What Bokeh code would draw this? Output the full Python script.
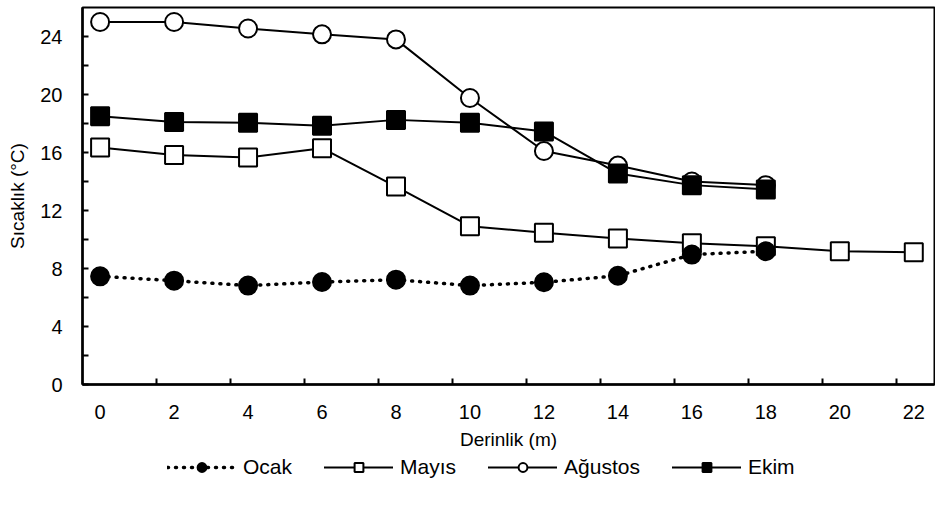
from bokeh.plotting import figure
from bokeh.models import FixedTicker, Legend, LegendItem, Range1d, ColumnDataSource
from bokeh.layouts import column
from bokeh.embed import file_html
from bokeh.resources import INLINE

depth_ocak = [0, 2, 4, 6, 8, 10, 12, 14, 16, 18]
ocak = [7.46, 7.16, 6.82, 7.07, 7.23, 6.82, 7.05, 7.5, 8.96, 9.19]

depth_mayis = [0, 2, 4, 6, 8, 10, 12, 14, 16, 18, 20, 22]
mayis = [16.35, 15.83, 15.65, 16.3, 13.65, 10.92, 10.46, 10.07, 9.74, 9.53, 9.19, 9.12]

depth_agustos = [0, 2, 4, 6, 8, 10, 12, 14, 16, 18]
agustos = [25.0, 25.0, 24.55, 24.15, 23.8, 19.76, 16.1, 15.1, 14.0, 13.75]

depth_ekim = [0, 2, 4, 6, 8, 10, 12, 14, 16, 18]
ekim = [18.5, 18.1, 18.05, 17.85, 18.25, 18.05, 17.45, 14.55, 13.75, 13.45]

series_names = ["Ocak", "Mayıs", "Ağustos", "Ekim"]

x_labels = [0, 2, 4, 6, 8, 10, 12, 14, 16, 18, 20, 22]
x_tick_marks = [1.52, 3.52, 5.52, 7.52, 9.52, 11.52, 13.52, 15.52, 17.52, 19.52, 21.52]
y_labels = [0, 4, 8, 12, 16, 20, 24]
y_minor = [2, 6, 10, 14, 18, 22]

FONT = "Liberation Sans"

p = figure(frame_width=852, frame_height=377, output_backend="svg", toolbar_location=None,
           x_range=Range1d(-0.476, 22.56), y_range=Range1d(0, 26),
           min_border_left=82, min_border_right=1, min_border_top=7, min_border_bottom=73)

p.xgrid.visible = False
p.ygrid.visible = False
p.outline_line_color = "black"
p.outline_line_width = 2
p.background_fill_color = "white"
p.border_fill_color = "white"

for ax in (p.xaxis[0], p.yaxis[0]):
    ax.axis_line_color = "black"
    ax.axis_line_width = 2.5
    ax.major_label_text_font = FONT
    ax.major_label_text_font_size = "20px"
    ax.major_label_text_color = "black"
    ax.axis_label_text_font = FONT
    ax.axis_label_text_font_size = "19px"
    ax.axis_label_text_font_style = "normal"
    ax.axis_label_text_color = "black"
    ax.major_tick_line_color = "black"
    ax.minor_tick_line_color = "black"
    ax.major_tick_line_width = 2
    ax.minor_tick_line_width = 2

p.xaxis.ticker = FixedTicker(ticks=x_labels, minor_ticks=x_tick_marks)
p.xaxis.major_tick_in = 0
p.xaxis.major_tick_out = 0
p.xaxis.minor_tick_in = 6
p.xaxis.minor_tick_out = 0
p.xaxis.major_label_standoff = 20
p.xaxis.axis_label = "Derinlik (m)"
p.xaxis.axis_label_standoff = 7

p.yaxis.ticker = FixedTicker(ticks=y_labels, minor_ticks=y_minor)
p.yaxis.major_tick_in = 6
p.yaxis.major_tick_out = 0
p.yaxis.minor_tick_in = 6
p.yaxis.minor_tick_out = 0
p.yaxis.major_label_standoff = 20
p.yaxis.axis_label = "Sıcaklık (°C)"
p.yaxis.axis_label_standoff = 9

SZ = 18
LW = 2

styles = {
    "Ocak": dict(marker="circle", fill="black", dash="1 7", lw=3.5),
    "Mayıs": dict(marker="square", fill="white", dash="solid", lw=LW),
    "Ağustos": dict(marker="circle", fill="white", dash="solid", lw=LW),
    "Ekim": dict(marker="square", fill="black", dash="solid", lw=LW),
}
sources = {
    "Ocak": ColumnDataSource(dict(x=depth_ocak, y=ocak)),
    "Mayıs": ColumnDataSource(dict(x=depth_mayis, y=mayis)),
    "Ağustos": ColumnDataSource(dict(x=depth_agustos, y=agustos)),
    "Ekim": ColumnDataSource(dict(x=depth_ekim, y=ekim)),
}

# draw order: Mayıs, Ocak, Ağustos, Ekim
for name in ["Mayıs", "Ocak", "Ağustos", "Ekim"]:
    st = styles[name]
    src = sources[name]
    p.line("x", "y", source=src, line_color="black", line_width=st["lw"],
           line_dash=st["dash"], line_cap="round")
    p.scatter("x", "y", source=src, marker=st["marker"], size=SZ, fill_color=st["fill"],
              line_color="black", line_width=LW)

# legend strip below the chart (its ranges keep the shared series out of view)
p2 = figure(width=935, height=59, output_backend="svg", toolbar_location=None,
            x_axis_location=None, y_axis_location=None,
            min_border_left=0, min_border_right=0, min_border_top=0, min_border_bottom=0,
            x_range=Range1d(1000, 1001), y_range=Range1d(1000, 1001))
p2.xgrid.visible = False
p2.ygrid.visible = False
p2.outline_line_color = None
p2.background_fill_color = "white"
p2.border_fill_color = "white"

items = []
for name in series_names:
    st = styles[name]
    src = sources[name]
    lr = p2.line("x", "y", source=src, line_color="black", line_width=st["lw"],
                 line_dash=st["dash"], line_cap="round")
    sr = p2.scatter("x", "y", source=src, marker=st["marker"], size=SZ,
                    fill_color=st["fill"], line_color="black", line_width=LW)
    items.append(LegendItem(label=name, renderers=[lr, sr]))

legend = Legend(items=items, orientation="horizontal", location=(85, 37))
legend.border_line_color = None
legend.background_fill_alpha = 0
legend.padding = 0
legend.margin = 0
legend.spacing = 32
legend.glyph_width = 69
legend.glyph_height = 22
legend.label_standoff = 7
legend.label_text_font = FONT
legend.label_text_font_size = "21px"
legend.label_text_color = "black"
p2.add_layout(legend, "center")

open("out.html", "w").write(file_html(column(p, p2), INLINE))
